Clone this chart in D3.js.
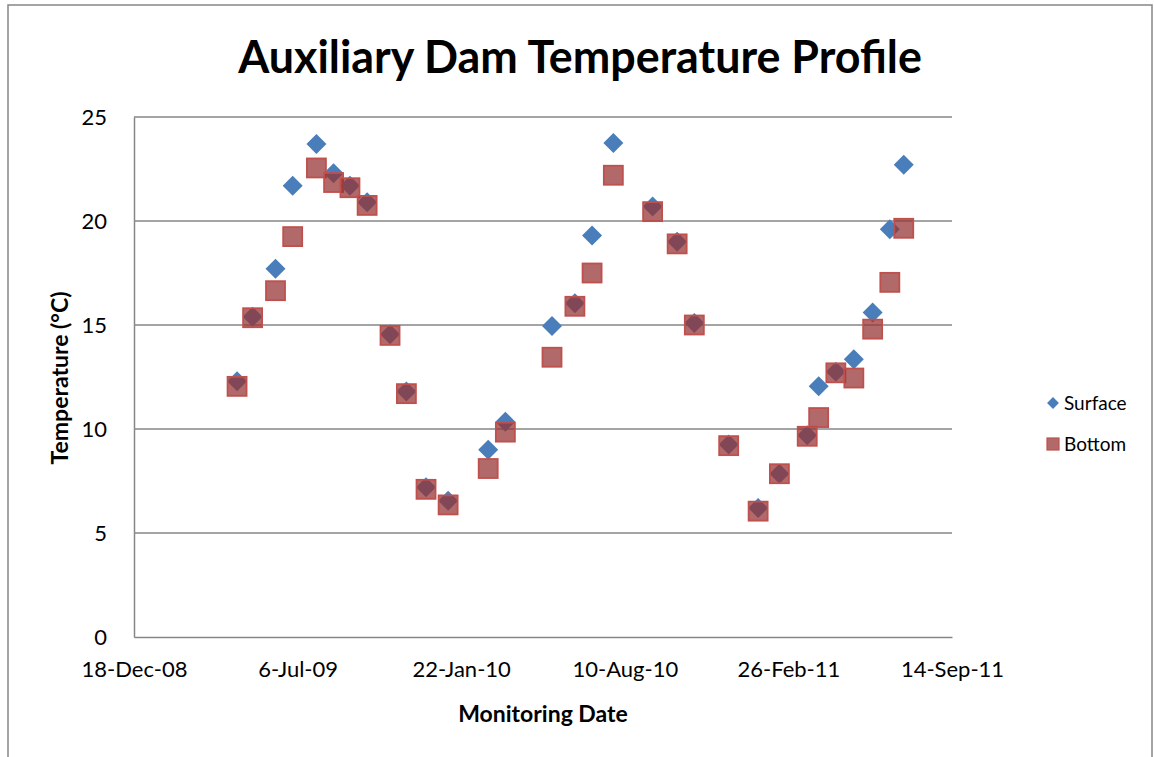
<!DOCTYPE html>
<html>
<head>
<meta charset="utf-8">
<script src="https://cdn.jsdelivr.net/npm/d3@7"></script>
<style>
  body { margin: 0; background: #fff; }
  text { font-family: Lato, "Open Sans", sans-serif; fill: #000; }
</style>
</head>
<body>
<div id="chart"></div>
<script>
// sampling dates and readings (°C)
var dates = ["2009-04-23", "2009-05-12", "2009-06-09", "2009-06-30", "2009-07-29", "2009-08-19",
  "2009-09-08", "2009-09-29", "2009-10-27", "2009-11-16", "2009-12-10", "2010-01-06",
  "2010-02-24", "2010-03-17", "2010-05-13", "2010-06-10", "2010-07-01", "2010-07-27",
  "2010-09-13", "2010-10-13", "2010-11-03", "2010-12-15", "2011-01-20", "2011-02-15",
  "2011-03-21", "2011-04-04", "2011-04-25", "2011-05-17", "2011-06-09", "2011-06-30", "2011-07-17"];

var surface = [12.3, 15.4, 17.7, 21.7, 23.7, 22.3, 21.7, 20.9, 14.55, 11.8, 7.2, 6.55,
  9.0, 10.35, 14.95, 16.05, 19.3, 23.75, 20.7, 19.0, 15.1, 9.25, 6.2, 7.85,
  9.7, 12.05, 12.75, 13.35, 15.6, 19.6, 22.7];

var bottom = [12.05, 15.35, 16.65, 19.25, 22.55, 21.85, 21.6, 20.75, 14.5, 11.7, 7.1, 6.35,
  8.1, 9.85, 13.45, 15.9, 17.5, 22.2, 20.45, 18.9, 15.0, 9.2, 6.05, 7.85,
  9.65, 10.55, 12.7, 12.45, 14.8, 17.05, 19.65];

var yTicks = [0, 5, 10, 15, 20, 25];
var xTickLabels = ["18-Dec-08", "6-Jul-09", "22-Jan-10", "10-Aug-10", "26-Feb-11", "14-Sep-11"];

var width = 1154, height = 757;
var parse = d3.utcParse("%Y-%m-%d"),
    tickParse = d3.utcParse("%d-%b-%y");

var xTicks = xTickLabels.map(function(s) { return tickParse(s); });

var x = d3.scaleUtc()
    .domain([xTicks[0], xTicks[xTicks.length - 1]])
    .range([134, 952]);

var y = d3.scaleLinear()
    .domain([0, 25])
    .range([637, 117]);

var svg = d3.select("#chart").append("svg")
    .attr("width", width)
    .attr("height", height);

// outer chart frame
svg.append("rect")
    .attr("x", 8).attr("y", 5)
    .attr("width", 1144).attr("height", 760)
    .attr("fill", "none")
    .attr("stroke", "#868686")
    .attr("stroke-width", 1.5);

// title: Calibri is narrower than Lato, so squeeze it to the original width
var title = svg.append("text")
    .attr("text-anchor", "middle")
    .style("font-weight", "bold")
    .style("font-size", "45px")
    .text("Auxiliary Dam Temperature Profile");
var tw = title.node().getComputedTextLength();
title.attr("transform", "translate(580,73)scale(" + (684 / tw) + ",1)");

// gridlines
svg.append("g")
    .selectAll("line")
    .data(yTicks.slice(1))
    .enter().append("line")
      .attr("x1", 134).attr("x2", 952)
      .attr("y1", function(d) { return y(d); })
      .attr("y2", function(d) { return y(d); })
      .attr("stroke", "#868686")
      .attr("stroke-width", 1.5);

var yAxis = svg.append("g")
    .attr("transform", "translate(134,0)")
    .call(d3.axisLeft(y).tickValues(yTicks).tickSize(0).tickPadding(27));

var xAxis = svg.append("g")
    .attr("transform", "translate(0,637)")
    .call(d3.axisBottom(x).tickValues(xTicks).tickSize(0).tickPadding(24)
      .tickFormat(function(d, i) { return xTickLabels[i]; }));

[yAxis, xAxis].forEach(function(a) {
  a.select(".domain").attr("stroke", "#868686").attr("stroke-width", 1.5);
  a.selectAll("text").style("font-size", "22px").style("font-family", "Lato, sans-serif").attr("fill", "#000");
});

svg.append("text")
    .attr("x", 543)
    .attr("y", 722)
    .attr("text-anchor", "middle")
    .style("font-weight", "bold")
    .style("font-size", "23px")
    .text("Monitoring Date");

svg.append("text")
    .attr("transform", "translate(68,378)rotate(-90)")
    .attr("text-anchor", "middle")
    .style("font-weight", "bold")
    .style("font-size", "23px")
    .text("Temperature (°C)");

var diamond = d3.symbol().type(d3.symbolSquare).size(200);

// surface: blue diamonds
svg.append("g")
    .selectAll("path")
    .data(dates)
    .enter().append("path")
      .attr("d", diamond)
      .attr("transform", function(d, i) { return "translate(" + x(parse(d)) + "," + y(surface[i]) + ")rotate(45)"; })
      .attr("fill", "#4a7ebb");

// bottom: semi-transparent red squares drawn over the diamonds
svg.append("g")
    .selectAll("rect")
    .data(dates)
    .enter().append("rect")
      .attr("x", function(d) { return x(parse(d)) - 9.5; })
      .attr("y", function(d, i) { return y(bottom[i]) - 9.5; })
      .attr("width", 19).attr("height", 19)
      .attr("fill", "rgb(150,52,52)")
      .attr("fill-opacity", 0.74)
      .attr("stroke", "#c0504d")
      .attr("stroke-width", 1.8);

// legend
var legend = svg.append("g");
legend.append("path")
    .attr("d", d3.symbol().type(d3.symbolSquare).size(70))
    .attr("transform", "translate(1053,403)rotate(45)")
    .attr("fill", "#4a7ebb");
legend.append("rect")
    .attr("x", 1047).attr("y", 438)
    .attr("width", 12).attr("height", 12)
    .attr("fill", "rgb(150,52,52)")
    .attr("fill-opacity", 0.74)
    .attr("stroke", "#c0504d")
    .attr("stroke-width", 1.2);
legend.append("text")
    .attr("x", 1064).attr("y", 410)
    .style("font-size", "19px")
    .text("Surface");
legend.append("text")
    .attr("x", 1064).attr("y", 451)
    .style("font-size", "19px")
    .text("Bottom");
</script>
</body>
</html>
